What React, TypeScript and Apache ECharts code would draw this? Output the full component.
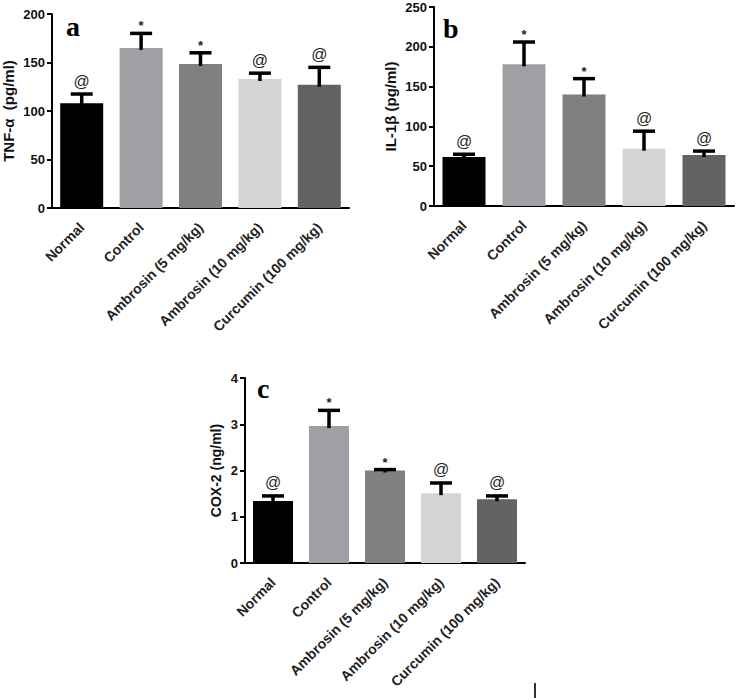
import React, { useEffect, useRef } from "react";
import * as echarts from "echarts";

const categories = [
  "Normal",
  "Control",
  "Ambrosin (5 mg/kg)",
  "Ambrosin (10 mg/kg)",
  "Curcumin (100 mg/kg)",
];

// Panel a: TNF-α (pg/ml)
const tnfMean = [108, 165, 148.5, 133, 127];
const tnfErrTop = [117.5, 180, 160, 139, 145];
const tnfMarks = ["@", "*", "*", "@", "@"];

// Panel b: IL-1β (pg/ml)
const ilMean = [61.5, 178, 140, 72, 64];
const ilErrTop = [65, 206, 160, 94, 69];
const ilMarks = ["@", "*", "*", "@", "@"];

// Panel c: COX-2 (ng/ml)
const coxMean = [1.34, 2.96, 2.0, 1.51, 1.38];
const coxErrTop = [1.45, 3.3, 2.02, 1.73, 1.45];
const coxMarks = ["@", "*", "*", "@", "@"];

const barColors = ["#000000", "#a0a0a4", "#808080", "#d4d4d4", "#636363"];

const SANS = '"Liberation Sans", Arial, sans-serif';
const SERIF = '"Liberation Serif", "Times New Roman", serif';

export default function App() {
  const ref = useRef<HTMLDivElement>(null);

  useEffect(() => {
    document.body.style.margin = "0";
    const chart = echarts.init(ref.current!, null, { renderer: "svg" });

    const panels = [
      {
        grid: { left: 52, top: 14, width: 297, height: 194 },
        max: 200, interval: 50, name: "TNF-α  (pg/ml)", nameGap: 36, nameSize: 15,
        mean: tnfMean, err: tnfErrTop, marks: tnfMarks, barWidth: 43,
      },
      {
        grid: { left: 434, top: 7, width: 300, height: 199 },
        max: 250, interval: 50, name: "IL-1β (pg/ml)", nameGap: 36, nameSize: 15,
        mean: ilMean, err: ilErrTop, marks: ilMarks, barWidth: 43,
      },
      {
        grid: { left: 245, top: 378, width: 280, height: 185 },
        max: 4, interval: 1, name: "COX-2 (ng/ml)", nameGap: 22, nameSize: 14,
        mean: coxMean, err: coxErrTop, marks: coxMarks, barWidth: 40,
      },
    ];

    const grids: any[] = [];
    const xAxes: any[] = [];
    const yAxes: any[] = [];
    const series: any[] = [];

    panels.forEach((p, i) => {
      grids.push({ ...p.grid, containLabel: false });
      xAxes.push({
        type: "category",
        gridIndex: i,
        data: categories,
        axisLine: { lineStyle: { color: "#000", width: 2 } },
        axisTick: { alignWithLabel: true, length: 6, lineStyle: { color: "#000", width: 2 } },
        axisLabel: {
          rotate: 45,
          margin: 17,
          interval: 0,
          color: "#222",
          fontFamily: SANS,
          fontWeight: "bold",
          fontSize: 14,
        },
      });
      yAxes.push({
        type: "value",
        gridIndex: i,
        min: 0,
        max: p.max,
        interval: p.interval,
        name: p.name,
        nameLocation: "middle",
        nameRotate: 90,
        nameGap: p.nameGap,
        nameTextStyle: { color: "#111", fontFamily: SANS, fontWeight: "bold", fontSize: p.nameSize },
        splitLine: { show: false },
        axisLine: { show: true, lineStyle: { color: "#000", width: 2 } },
        axisTick: { show: true, length: 5, lineStyle: { color: "#000", width: 2 } },
        axisLabel: { color: "#111", fontFamily: SANS, fontWeight: "bold", fontSize: 13, margin: 7 },
      });
      series.push({
        type: "bar",
        xAxisIndex: i,
        yAxisIndex: i,
        barWidth: p.barWidth,
        data: p.mean.map((v, k) => ({ value: v, itemStyle: { color: barColors[k] } })),
        z: 2,
      });
      series.push({
        type: "custom",
        xAxisIndex: i,
        yAxisIndex: i,
        z: 3,
        data: p.mean.map((v, k) => [k, v, p.err[k], k]),
        renderItem: (params: any, api: any) => {
          const idx = api.value(0);
          const mean = api.value(1);
          const top = api.value(2);
          const p0 = api.coord([idx, mean]);
          const p1 = api.coord([idx, top]);
          const half = 11;
          const mark = p.marks[idx];
          return {
            type: "group",
            children: [
              {
                type: "line",
                shape: { x1: p1[0], y1: p0[1] + 2, x2: p1[0], y2: p1[1] },
                style: { stroke: "#000", lineWidth: 3.5 },
              },
              {
                type: "line",
                shape: { x1: p1[0] - half, y1: p1[1], x2: p1[0] + half, y2: p1[1] },
                style: { stroke: "#000", lineWidth: 3.5 },
              },
              {
                type: "text",
                style: {
                  text: mark,
                  x: p1[0],
                  y: p1[1] - (mark === "@" ? 5 : 1),
                  align: "center",
                  verticalAlign: "bottom",
                  fill: "#222",
                  fontFamily: SANS,
                  fontSize: mark === "@" ? 16 : 13,
                  fontWeight: mark === "@" ? "normal" : "bold",
                },
              },
            ],
          };
        },
      });
    });

    const letterStyle = { fontFamily: SERIF, fontWeight: "bold" as const, fontSize: 28, color: "#000" };

    chart.setOption({
      animation: false,
      backgroundColor: "#fff",
      title: [
        { text: "a", left: 66, top: 12, padding: 0, textStyle: letterStyle },
        { text: "b", left: 443, top: 14, padding: 0, textStyle: letterStyle },
        { text: "c", left: 257, top: 374, padding: 0, textStyle: letterStyle },
      ],
      grid: grids,
      xAxis: xAxes,
      yAxis: yAxes,
      series,
      graphic: [
        {
          type: "line",
          shape: { x1: 535, y1: 683, x2: 535, y2: 698 },
          style: { stroke: "#333", lineWidth: 2 },
        },
      ],
    });

    return () => chart.dispose();
  }, []);

  return <div ref={ref} style={{ width: 736, height: 698 }} />;
}
